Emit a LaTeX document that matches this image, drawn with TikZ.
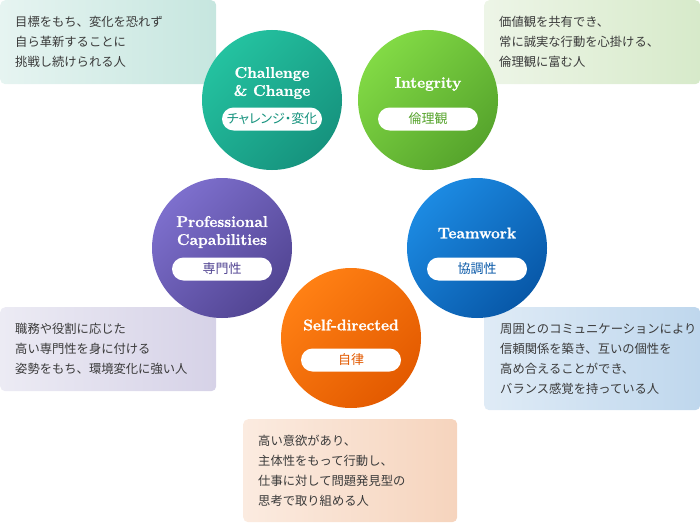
\documentclass[tikz,border=0pt]{standalone}
\usepackage{fontspec}
\newfontfamily\jp{Noto Sans CJK JP}
\newfontfamily\jpp[RawFeature=+palt]{Noto Sans CJK JP}
\newfontfamily\titlefont[BoldFeatures={FakeBold=1.2}]{Latin Modern Roman}
\usetikzlibrary{positioning}

\definecolor{textgray}{HTML}{3A3A3A}
\definecolor{chalA}{HTML}{24C2A0}
\definecolor{chalB}{HTML}{16937E}
\definecolor{intA}{HTML}{82DA45}
\definecolor{intB}{HTML}{56A42C}
\definecolor{profA}{HTML}{7D6FCD}
\definecolor{profB}{HTML}{524593}
\definecolor{teamA}{HTML}{1C8AE2}
\definecolor{teamB}{HTML}{0858A8}
\definecolor{selfA}{HTML}{FF8014}
\definecolor{selfB}{HTML}{E35A00}
% box colours
\definecolor{chalL}{HTML}{E6F4F1}
\definecolor{chalR}{HTML}{C6E6DF}
\definecolor{intL}{HTML}{EDF5E7}
\definecolor{intR}{HTML}{D7EACA}
\definecolor{profL}{HTML}{ECEBF4}
\definecolor{profR}{HTML}{D6D2E7}
\definecolor{teamL}{HTML}{DFEBF6}
\definecolor{teamR}{HTML}{BFD7ED}
\definecolor{selfL}{HTML}{FBEBE0}
\definecolor{selfR}{HTML}{F6D4BD}

\begin{document}
\begin{tikzpicture}[x=1pt, y=-1pt,
    disc/.style 2 args={circle, minimum size=140pt, inner sep=0pt, top color=#1, bottom color=#2, shading angle=45},
    title/.style={text=white, font=\titlefont\fontsize{15.5}{18}\selectfont\bfseries, align=center, inner sep=0pt},
    pill/.style={fill=white, rounded corners=11.5pt, minimum width=100pt, minimum height=23pt, inner sep=0pt, font=\jp\fontsize{13}{15}\selectfont, text=#1},
    infobox/.style 2 args={anchor=north west, rounded corners=5pt, left color=#1, right color=#2, inner sep=0pt, minimum width=216pt, minimum height=84pt},
    infotext/.style={anchor=west, align=left, inner sep=0pt, text=textgray, font=\jp\fontsize{12.3}{20}\selectfont},
]
    \useasboundingbox (0,0) rectangle (700,524);

    % boxes
    \node[infobox={chalL}{chalR}] (chalbox) at (0,0) {};
    \node[infobox={intL}{intR}] (intbox) at (484,0) {};
    \node[infobox={profL}{profR}] (profbox) at (0,307) {};
    \node[infobox={teamL}{teamR}, minimum height=103pt] (teambox) at (484,307) {};
    \node[infobox={selfL}{selfR}, minimum width=214pt, minimum height=103pt] (selfbox) at (243,419) {};

    \node[infotext, right=15pt of chalbox.west] (chaltext) {目標をもち、変化を恐れず\\自ら革新することに\\挑戦し続けられる人};
    \node[infotext, right=15pt of intbox.west] (inttext) {価値観を共有でき、\\常に誠実な行動を心掛ける、\\倫理観に富む人};
    \node[infotext, right=15pt of profbox.west] (proftext) {職務や役割に応じた\\高い専門性を身に付ける\\姿勢をもち、環境変化に強い人};
    \node[infotext, right=16pt of teambox.west] (teamtext) {周囲とのコミュニケーションにより\\信頼関係を築き、互いの個性を\\高め合えることができ、\\バランス感覚を持っている人};
    \node[infotext, right=15pt of selfbox.west] (selftext) {高い意欲があり、\\主体性をもって行動し、\\仕事に対して問題発見型の\\思考で取り組める人};

    % circles
    \node[disc={chalA}{chalB}] (chal) at (272,100) {};
    \node[disc={intA}{intB}] (int) at (428,100) {};
    \node[disc={profA}{profB}] (prof) at (222,248) {};
    \node[disc={teamA}{teamB}] (team) at (477,248) {};
    \node[disc={selfA}{selfB}] (self) at (351,338) {};

    \node[title] (chaltitle) at (272,83) {Challenge\\\& Change};
    \node[title] (inttitle) at (428,84) {Integrity};
    \node[title] (proftitle) at (222,232) {Professional\\Capabilities};
    \node[title] (teamtitle) at (477,233) {Teamwork};
    \node[title] (selftitle) at (351,325) {Self-directed};

    \node[pill=chalB, font=\jpp\fontsize{13}{15}\selectfont] (chalpill) at (272,119) {チャレンジ・変化};
    \node[pill=intB] (intpill) at (428,119) {倫理観};
    \node[pill=profB] (profpill) at (222,269) {専門性};
    \node[pill=teamB] (teampill) at (477,269) {協調性};
    \node[pill=selfB] (selfpill) at (351,360) {自律};
\end{tikzpicture}
\end{document}
